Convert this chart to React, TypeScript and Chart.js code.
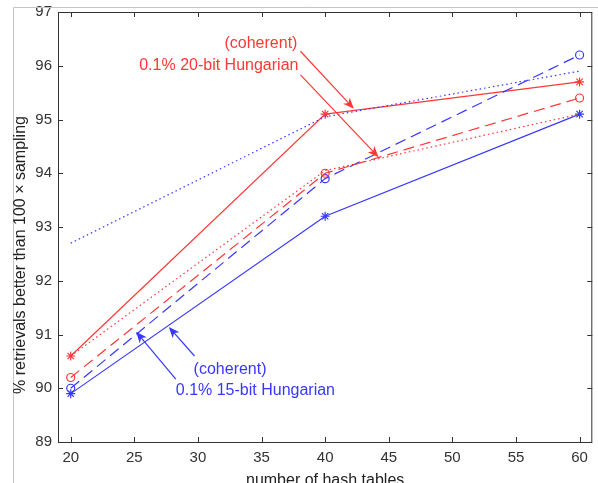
import { useEffect, useRef } from "react";
import { Chart, registerables } from "chart.js";

Chart.register(...registerables);

// ---- data ----
const tableCounts = [20, 40, 60];
const red20bitCoherent = [90.6, 95.1, 95.7]; // red solid, '*'
const red20bit = [90.2, 94.0, 95.4]; // red dashed, 'o'
const redDotted = [90.6, 94.05, 95.1]; // red dotted
const blue15bitCoherent = [89.9, 93.2, 95.1]; // blue solid, '*'
const blue15bit = [90.0, 93.9, 96.2]; // blue dashed, 'o'
const blueDotted = [92.7, 95.05, 95.9]; // blue dotted
const xTickValues = [20, 25, 30, 35, 40, 45, 50, 55, 60];
const yTickValues = [89, 90, 91, 92, 93, 94, 95, 96, 97];

const RED = "rgb(255,55,55)";
const BLUE = "rgb(55,55,255)";
const FONT = "'Liberation Sans', Arial, Helvetica, sans-serif";

type Txt = { text: string; x: number; y: number; align: CanvasTextAlign; color: string };
type Arr = { x1: number; y1: number; x2: number; y2: number; color: string };

const annoTexts: Txt[] = [
  { text: "(coherent)", x: 37.82, y: 96.42, align: "right", color: RED },
  { text: "0.1% 20-bit Hungarian", x: 37.9, y: 96.01, align: "right", color: RED },
  { text: "(coherent)", x: 29.66, y: 90.34, align: "left", color: BLUE },
  { text: "0.1% 15-bit Hungarian", x: 28.26, y: 89.95, align: "left", color: BLUE },
];
const annoArrows: Arr[] = [
  { x1: 38.06, y1: 96.27, x2: 42.26, y2: 95.2, color: RED },
  { x1: 38.06, y1: 95.83, x2: 44.2, y2: 94.3, color: RED },
  { x1: 29.73, y1: 90.6, x2: 27.71, y2: 91.14, color: BLUE },
  { x1: 28.26, y1: 90.17, x2: 25.14, y2: 91.05, color: BLUE },
];

function drawArrow(ctx: CanvasRenderingContext2D, x1: number, y1: number, x2: number, y2: number, color: string) {
  const ang = Math.atan2(y2 - y1, x2 - x1);
  const len = 11, hw = 4.5, notch = 3;
  const cos = Math.cos(ang), sin = Math.sin(ang);
  const bx = x2 - len * cos, by = y2 - len * sin;
  const nx = x2 - (len - notch) * cos, ny = y2 - (len - notch) * sin;
  ctx.save();
  ctx.strokeStyle = color;
  ctx.fillStyle = color;
  ctx.lineWidth = 1.2;
  ctx.beginPath();
  ctx.moveTo(x1, y1);
  ctx.lineTo(nx, ny);
  ctx.stroke();
  ctx.beginPath();
  ctx.moveTo(x2, y2);
  ctx.lineTo(bx - hw * sin, by + hw * cos);
  ctx.lineTo(nx, ny);
  ctx.lineTo(bx + hw * sin, by - hw * cos);
  ctx.closePath();
  ctx.fill();
  ctx.restore();
}

const decorPlugin = {
  id: "decor",
  afterDatasetsDraw(chart: any) {
    const ctx: CanvasRenderingContext2D = chart.ctx;
    const xs = chart.scales.x, ys = chart.scales.y;
    const { left, right, top, bottom } = chart.chartArea;
    ctx.save();
    // annotations
    ctx.font = `16px ${FONT}`;
    ctx.textBaseline = "middle";
    for (const t of annoTexts) {
      ctx.fillStyle = t.color;
      ctx.textAlign = t.align;
      ctx.fillText(t.text, xs.getPixelForValue(t.x), ys.getPixelForValue(t.y));
    }
    for (const a of annoArrows) {
      drawArrow(ctx, xs.getPixelForValue(a.x1), ys.getPixelForValue(a.y1), xs.getPixelForValue(a.x2), ys.getPixelForValue(a.y2), a.color);
    }
    // outer figure frame
    ctx.strokeStyle = "#c4c4c4";
    ctx.lineWidth = 1;
    ctx.beginPath();
    ctx.moveTo(13.5, chart.height);
    ctx.lineTo(13.5, 7.5);
    ctx.lineTo(chart.width, 7.5);
    ctx.stroke();
    // axes box
    ctx.strokeStyle = "#333";
    ctx.beginPath();
    ctx.rect(left + 0.5, top + 0.5, right - left - 1, bottom - top);
    ctx.stroke();
    // inward ticks
    const tl = 5;
    ctx.beginPath();
    for (const v of xTickValues) {
      const px = Math.round(xs.getPixelForValue(v)) + 0.5;
      ctx.moveTo(px, bottom);
      ctx.lineTo(px, bottom - tl);
      ctx.moveTo(px, top);
      ctx.lineTo(px, top + tl);
    }
    for (const v of yTickValues) {
      const py = Math.round(ys.getPixelForValue(v)) + 0.5;
      ctx.moveTo(left, py);
      ctx.lineTo(left + tl, py);
      ctx.moveTo(right, py);
      ctx.lineTo(right - tl, py);
    }
    ctx.stroke();
    // y-axis title
    ctx.fillStyle = "#222";
    ctx.font = `16px ${FONT}`;
    ctx.textAlign = "center";
    ctx.textBaseline = "middle";
    ctx.translate(21, 255);
    ctx.rotate(-Math.PI / 2);
    ctx.fillText("% retrievals better than 100 \u00d7 sampling", 0, 0);
    ctx.restore();
  },
};

export default function App() {
  const ref = useRef<HTMLCanvasElement | null>(null);
  useEffect(() => {
    if (!ref.current) return;
    const mk = (label: string, data: number[], color: string, dash: number[], style: any, r: number) => ({
      label,
      data: tableCounts.map((x, i) => ({ x, y: data[i] })),
      borderColor: color,
      backgroundColor: "transparent",
      borderWidth: 1.2,
      borderDash: dash,
      pointStyle: style,
      pointRadius: r,
      pointBorderColor: color,
      pointBackgroundColor: "transparent",
      pointBorderWidth: 1.2,
      tension: 0,
    });
    const chart = new Chart(ref.current, {
      type: "line",
      data: {
        datasets: [
          mk("red dotted", redDotted, RED, [1.5, 3], false, 0),
          mk("blue dotted", blueDotted, BLUE, [1.5, 3], false, 0),
          mk("0.1% 20-bit Hungarian", red20bit, RED, [11, 6], "circle", 4),
          mk("0.1% 15-bit Hungarian", blue15bit, BLUE, [11, 6], "circle", 4),
          mk("20-bit coherent", red20bitCoherent, RED, [], "star", 4.5),
          mk("15-bit coherent", blue15bitCoherent, BLUE, [], "star", 4.5),
        ],
      },
      options: {
        responsive: false,
        animation: false,
        layout: { padding: { top: 12, left: 0, right: 0, bottom: 0 } },
        plugins: { legend: { display: false }, tooltip: { enabled: false } },
        scales: {
          x: {
            type: "linear",
            min: 19,
            max: 61,
            afterBuildTicks: (s: any) => {
              s.ticks = xTickValues.map((v) => ({ value: v }));
            },
            afterFit: (s: any) => {
              s.height = 41;
              s.paddingLeft = 0;
              s.paddingRight = 0;
            },
            grid: { display: false, drawTicks: false },
            border: { display: false },
            ticks: { padding: 7, color: "#333", font: { family: FONT, size: 15 }, maxRotation: 0, autoSkip: false },
            title: {
              display: true,
              text: "number of hash tables",
              color: "#222",
              font: { family: FONT, size: 16 },
              padding: { top: 0, bottom: -7 },
            },
          },
          y: {
            type: "linear",
            min: 89,
            max: 97,
            afterBuildTicks: (s: any) => {
              s.ticks = yTickValues.map((v) => ({ value: v }));
            },
            afterFit: (s: any) => {
              s.width = 58;
              s.paddingTop = 0;
              s.paddingBottom = 0;
            },
            grid: { display: false, drawTicks: false },
            border: { display: false },
            ticks: { padding: 6, color: "#333", font: { family: FONT, size: 15 } },
          },
        },
      },
      plugins: [decorPlugin],
    });
    return () => chart.destroy();
  }, []);
  return (
    <div style={{ position: "absolute", left: 0, top: 0, width: 598, height: 483, background: "#fff" }}>
      <canvas ref={ref} width={598} height={483} style={{ display: "block" }} />
    </div>
  );
}
